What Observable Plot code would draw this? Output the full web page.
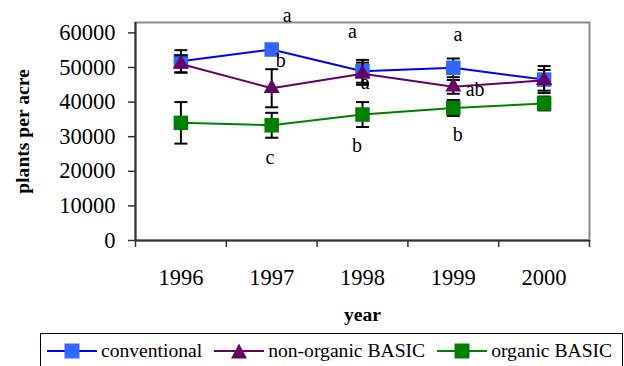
<!DOCTYPE html>
<html>
<head>
<meta charset="utf-8">
<script src="https://cdn.jsdelivr.net/npm/d3@7"></script>
<script src="https://cdn.jsdelivr.net/npm/@observablehq/plot@0.6"></script>
<style>
  html, body { margin: 0; padding: 0; background: #fff; }
  #wrap { position: relative; width: 624px; height: 366px; overflow: hidden; font-family: 'Liberation Serif'; }
  #legend {
    position: absolute; left: 40px; top: 333px; width: 583px; height: 44px;
    box-sizing: border-box; border: 1px solid #000; background: #fff;
    display: flex; align-items: flex-start; padding: 7px 0 0 6px;
    font-family: 'Liberation Serif'; font-size: 19.6px; line-height: 20px; color: #000; white-space: nowrap;
  }
  .item { display: flex; align-items: flex-start; margin-right: 12px; }
  .item svg { display: block; margin-right: 4px; }
  .item span { font-family: 'Liberation Serif'; }
</style>
</head>
<body>
<div id="wrap"></div>
<script>
// Plant stand by year and production system (mean ± error)
const years = [1996, 1997, 1998, 1999, 2000];

const conventional    = [51800, 55200, 48900, 49900, 46500];
const conventionalErr = [3200, 0, 3300, 2700, 3900];

const nonOrganic    = [51000, 44000, 48200, 44400, 46300];
const nonOrganicErr = [2500, 5500, 3200, 2000, 3000];

const organic    = [34000, 33300, 36400, 38300, 39600];
const organicErr = [6000, 3600, 3600, 2300, 2000];

const seriesNames = ["conventional", "non-organic BASIC", "organic BASIC"];

const yTicks = [0, 10000, 20000, 30000, 40000, 50000, 60000];

// Mean-separation letters
const letterYears  = [1997.17, 1997.10, 1996.98, 1997.89, 1998.03, 1997.94, 1999.05, 1999.24, 1999.05];
const letterValues = [64900, 52000, 24000, 60500, 45500, 27300, 59500, 43600, 30600];
const letterTexts  = ["a", "b", "c", "a", "a", "b", "a", "ab", "b"];

const serif = "Liberation Serif";

const styles = [
  {line: "#0000ff", fill: "#3366ff", symbol: "square", r: 8.2},
  {line: "#660066", fill: "#660066", symbol: "triangle", r: 6},
  {line: "#008000", fill: "#008000", symbol: "square", r: 8.2}
];
const seriesValues = [conventional, nonOrganic, organic];
const seriesErrs = [conventionalErr, nonOrganicErr, organicErr];

// horizontal cap for error bars, half-width = r
const cap = {
  draw(context, size) {
    const w = Math.sqrt(size / Math.PI);
    context.moveTo(-w, 0);
    context.lineTo(w, 0);
  }
};

const boundaries = [years[0] - 0.5, ...years.map(y => y + 0.5)];

const seriesMarks = seriesNames.flatMap((name, i) => {
  const rows = years.map((year, j) => ({year, value: seriesValues[i][j], err: seriesErrs[i][j]}));
  const withErr = rows.filter(d => d.err > 0);
  const s = styles[i];
  return [
    Plot.line(rows, {x: "year", y: "value", stroke: s.line, strokeWidth: 2}),
    Plot.ruleX(withErr, {x: "year", y1: d => d.value - d.err, y2: d => d.value + d.err, stroke: "#000", strokeWidth: 2}),
    Plot.dot(withErr, {x: "year", y: d => d.value + d.err, symbol: cap, r: 6.5, fill: "none", stroke: "#000", strokeWidth: 2}),
    Plot.dot(withErr, {x: "year", y: d => d.value - d.err, symbol: cap, r: 6.5, fill: "none", stroke: "#000", strokeWidth: 2}),
    Plot.dot(rows, {x: "year", y: "value", symbol: s.symbol, r: s.r, fill: s.fill, stroke: "none"})
  ];
});

const letters = letterTexts.map((t, i) => ({year: letterYears[i], value: letterValues[i], text: t}));

const chart = Plot.plot({
  width: 624,
  height: 333,
  marginLeft: 135,
  marginRight: 35,
  marginTop: 22,
  marginBottom: 93,
  style: `font-family: '${serif}'; font-size: 22px; color: #000; background: #fff; overflow: visible;`,
  x: {domain: [boundaries[0], boundaries[boundaries.length - 1]]},
  y: {domain: [0, 63000]},
  marks: [
    Plot.frame({stroke: "#8c8c8c", strokeWidth: 2}),
    Plot.axisY({ticks: yTicks, tickSize: 7, tickPadding: 13, tickFormat: d3.format("d"), fontSize: 22.5, fontFamily: serif, label: null, stroke: "#333", strokeWidth: 1.5}),
    Plot.axisX({ticks: boundaries, tickSize: 7, tickFormat: () => "", label: null, stroke: "#333", strokeWidth: 1.5}),
    Plot.axisX({ticks: years, tickSize: 0, tickPadding: 29, tickFormat: d => String(d), fontSize: 22.5, fontFamily: serif, label: null}),
    Plot.ruleX([boundaries[0]], {stroke: "#333", strokeWidth: 2}),
    Plot.ruleY([0], {stroke: "#333", strokeWidth: 2}),
    ...seriesMarks,
    Plot.text(letters, {x: "year", y: "value", text: "text", fontSize: 20, fontFamily: serif}),
    Plot.text(["plants per acre"], {text: d => d, frameAnchor: "left", textAnchor: "middle", lineAnchor: "middle", dx: -113, rotate: -90, fontWeight: "bold", fontSize: 19.6, fontFamily: serif}),
    Plot.text(["year"], {text: d => d, frameAnchor: "bottom", textAnchor: "middle", lineAnchor: "middle", dy: 74, fontWeight: "bold", fontSize: 19.6, fontFamily: serif})
  ]
});

const wrap = document.getElementById("wrap");
wrap.appendChild(chart);

// Legend: line sample with marker, then series name
const legend = document.createElement("div");
legend.id = "legend";
seriesNames.forEach((name, i) => {
  const s = styles[i];
  const item = document.createElement("div");
  item.className = "item";
  const marker = s.symbol === "square"
    ? `<rect x="17.5" y="2.5" width="15" height="15" fill="${s.fill}"/>`
    : `<path d="M25,2.5 L33,17.5 L17,17.5 Z" fill="${s.fill}"/>`;
  item.innerHTML = `<svg width="50" height="20" viewBox="0 0 50 20"><line x1="0" y1="10" x2="50" y2="10" stroke="${s.line}" stroke-width="2"/>${marker}</svg><span>${name}</span>`;
  legend.appendChild(item);
});
wrap.appendChild(legend);
</script>
</body>
</html>
